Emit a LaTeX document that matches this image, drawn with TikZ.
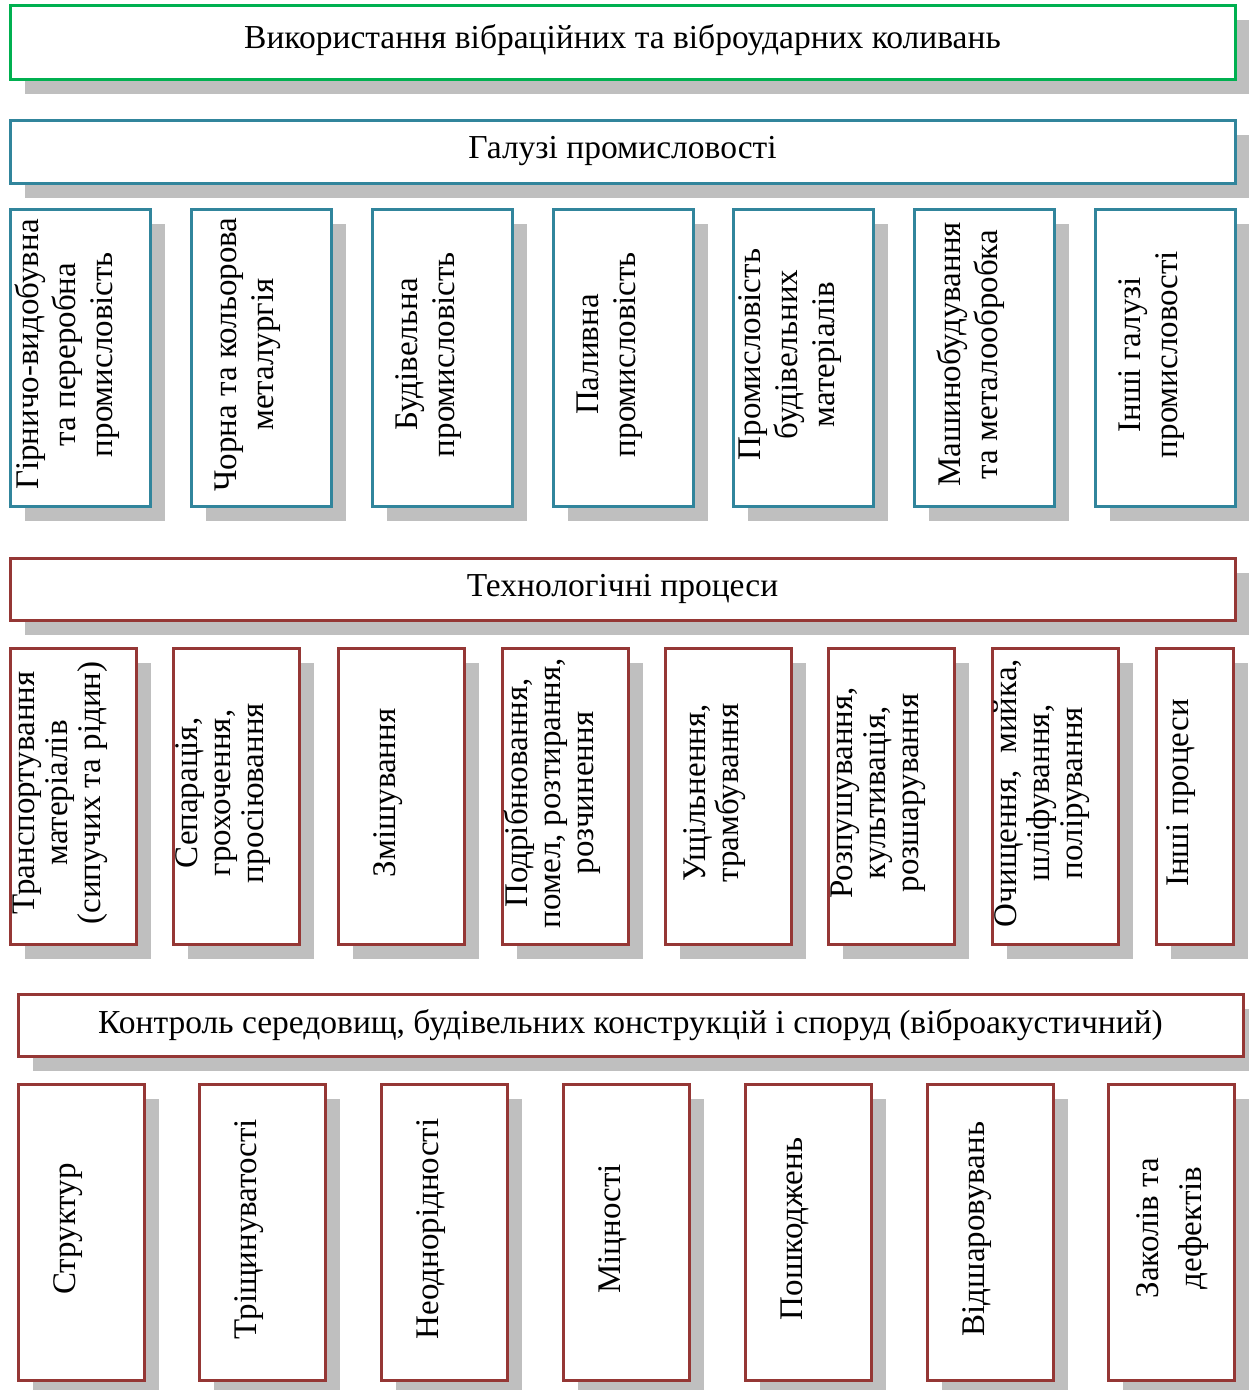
\documentclass[tikz,border=0pt]{standalone}
\usepackage{fontspec}
\setmainfont{Liberation Serif}
\usetikzlibrary{shadows}
\definecolor{cgreen}{HTML}{00B050}
\definecolor{cteal}{HTML}{31859C}
\definecolor{cred}{HTML}{953735}
\definecolor{cshadow}{HTML}{BFBFBF}
\begin{document}
\begin{tikzpicture}[x=1pt,y=1pt,
  box/.style={draw, line width=3pt, fill=white, inner sep=0pt,
    drop shadow={shadow xshift=15pt, shadow yshift=-15pt, fill=cshadow, opacity=1}},
  gbox/.style={box, draw=cgreen},
  tbox/.style={box, draw=cteal},
  rbox/.style={box, draw=cred},
  htext/.style={inner sep=0pt, font=\fontsize{33.5}{38}\selectfont},
  vbase/.style={rotate=90, align=center, inner sep=0pt},
  vtext/.style={xshift=-13pt, yshift=3pt, vbase, font=\fontsize{33}{33}\selectfont},
  vtextA/.style={vtext, font=\fontsize{33}{37}\selectfont},
  vtextB/.style={vtext, font=\fontsize{33}{33}\selectfont},
  vtextC/.style={xshift=1.5pt, yshift=4pt, vbase, font=\fontsize{33}{43}\selectfont},
  wide/.style={minimum width=1225pt},
  tall/.style={minimum height=296pt}
]
\useasboundingbox (0,0) rectangle (1249,-1390);
\clip (0,0) rectangle (1249,-1390);

% Row 1
\node[gbox, wide, minimum height=74pt] (title) at (622.5,-42) {};
\node[htext] (titlet) at ([yshift=2pt]title.center) {Використання вібраційних та віброударних коливань};

% Row 2
\node[tbox, wide, minimum height=63pt] (galuzi) at (622.5,-151.5) {};
\node[htext] (galuzit) at (galuzi.center) {Галузі промисловості};

% Row 3
\node[tbox, minimum width=140pt, minimum height=297pt] (i1) at (80,-357.5) {};
\node[tbox, minimum width=140pt, minimum height=297pt] (i2) at (261,-357.5) {};
\node[tbox, minimum width=140pt, minimum height=297pt] (i3) at (442,-357.5) {};
\node[tbox, minimum width=140pt, minimum height=297pt] (i4) at (623,-357.5) {};
\node[tbox, minimum width=140pt, minimum height=297pt] (i5) at (803,-357.5) {};
\node[tbox, minimum width=140pt, minimum height=297pt] (i6) at (984,-357.5) {};
\node[tbox, minimum width=140pt, minimum height=297pt] (i7) at (1165,-357.5) {};
\node[vtextA] (i1t) at (i1.center) {Гірничо-видобувна\\та переробна\\промисловість};
\node[vtextA] (i2t) at (i2.center) {Чорна та кольорова\\металургія};
\node[vtextA] (i3t) at (i3.center) {Будівельна\\промисловість};
\node[vtextA] (i4t) at (i4.center) {Паливна\\промисловість};
\node[vtextA] (i5t) at (i5.center) {Промисловість\\будівельних\\матеріалів};
\node[vtextA] (i6t) at (i6.center) {Машинобудування\\та металообробка};
\node[vtextA] (i7t) at (i7.center) {Інші галузі\\промисловості};

% Row 4
\node[rbox, wide, minimum height=62pt] (tech) at (622.5,-589) {};
\node[htext] (techt) at (tech.center) {Технологічні процеси};

% Row 5
\node[rbox, tall, minimum width=126pt] (p1) at (73,-796) {};
\node[rbox, tall, minimum width=126pt] (p2) at (236,-796) {};
\node[rbox, tall, minimum width=126pt] (p3) at (401,-796) {};
\node[rbox, tall, minimum width=126pt] (p4) at (565,-796) {};
\node[rbox, tall, minimum width=126pt] (p5) at (728,-796) {};
\node[rbox, tall, minimum width=126pt] (p6) at (891,-796) {};
\node[rbox, tall, minimum width=126pt] (p7) at (1055,-796) {};
\node[rbox, tall, minimum width=77pt] (p8) at (1194.5,-796) {};
\node[vtextB] (p1t) at (p1.center) {Транспортування\\матеріалів\\(сипучих та рідин)};
\node[vtextB] (p2t) at (p2.center) {Сепарація,\\грохочення,\\просіювання};
\node[vtextB] (p3t) at (p3.center) {Змішування};
\node[vtextB] (p4t) at (p4.center) {Подрібнювання,\\помел, розтирання,\\розчинення};
\node[vtextB] (p5t) at (p5.center) {Ущільнення,\\трамбування};
\node[vtextB] (p6t) at (p6.center) {Розпушування,\\культивація,\\розшарування};
\node[vtextB] (p7t) at (p7.center) {Очищення,~ мийка,\\шліфування,\\полірування};
\node[vtextB] (p8t) at (p8.center) {Інші процеси};

% Row 6
\node[rbox, wide, minimum height=62pt] (ctrl) at (630.5,-1025) {};
\node[htext] (ctrlt) at (ctrl.center) {Контроль середовищ, будівельних конструкцій і споруд (віброакустичний)};

% Row 7
\node[rbox, tall, minimum width=126pt] (c1) at (81,-1232) {};
\node[rbox, tall, minimum width=126pt] (c2) at (262,-1232) {};
\node[rbox, tall, minimum width=126pt] (c3) at (444,-1232) {};
\node[rbox, tall, minimum width=126pt] (c4) at (626,-1232) {};
\node[rbox, tall, minimum width=126pt] (c5) at (808,-1232) {};
\node[rbox, tall, minimum width=126pt] (c6) at (990,-1232) {};
\node[rbox, tall, minimum width=126pt] (c7) at (1171,-1232) {};
\node[vtext] (c1t) at (c1.center) {Структур};
\node[vtext] (c2t) at (c2.center) {Тріщинуватості};
\node[vtext] (c3t) at (c3.center) {Неоднорідності};
\node[vtext] (c4t) at (c4.center) {Міцності};
\node[vtext] (c5t) at (c5.center) {Пошкоджень};
\node[vtext] (c6t) at (c6.center) {Відшаровувань};
\node[vtextC] (c7t) at (c7.center) {Заколів та\\дефектів};
\end{tikzpicture}
\end{document}
